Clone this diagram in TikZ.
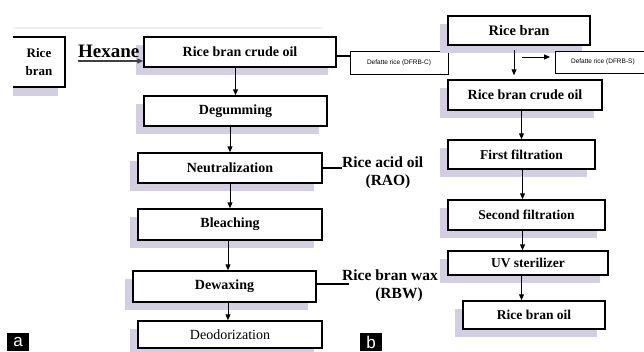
\documentclass[tikz,border=0pt]{standalone}
\usepackage{fontspec}
\setmainfont{Liberation Serif}
\setsansfont{Liberation Sans}
\usetikzlibrary{arrows.meta,shadows,calc}
\definecolor{shadowc}{RGB}{212,206,226}
\tikzset{
  box/.style={draw=black, line width=1.5pt, fill=white, inner sep=0pt,
    font=\fontsize{14}{16}\selectfont\bfseries,
    drop shadow={shadow xshift=-8pt, shadow yshift=-8pt, fill=shadowc, opacity=1}},
  rbox/.style={box, font=\fontsize{13.5}{16}\selectfont\bfseries},
  smallbox/.style={draw=black, line width=0.8pt, fill=white, inner sep=0pt,
    font=\sffamily\fontsize{6.5}{8}\selectfont},
  flow/.style={line width=1pt, -{Triangle[length=6pt,width=5pt]}},
  plainline/.style={line width=1.2pt},
  sidelabel/.style={font=\fontsize{15.5}{17}\selectfont\bfseries, inner sep=0pt},
  tag/.style={fill=black, text=white, font=\sffamily\fontsize{17}{17}\selectfont,
    minimum width=22pt, minimum height=18pt, inner sep=0pt}
}
\begin{document}
\begin{tikzpicture}[x=1pt,y=-1pt]
\useasboundingbox (0,0) rectangle (644,351);
% faint top rule
\draw[gray!12, line width=1.5pt] (13,28) -- (323,28);

% ---- panel a ----
% Rice bran (left edge cut off)
\fill[shadowc] (13,87) rectangle (58,96);
\node[inner sep=0pt, minimum width=52pt, minimum height=50pt, align=center,
  font=\fontsize{13}{18}\selectfont\bfseries] (lrb) at (39,62) {Rice\\bran};
\draw[line width=1.5pt] (lrb.north west) -- (lrb.north east) -- (lrb.south east) -- (lrb.south west);

\node[box, minimum width=192pt, minimum height=30pt] (lcrude) at (240,52) {Rice bran crude oil};
\node[anchor=base west, inner sep=0pt, font=\fontsize{19}{20}\selectfont\bfseries] (hex) at (78,57) {Hexane};
\coordinate (hexstart) at (78,61);
\draw[line width=1.2pt, black!75, -{Triangle[length=6pt,width=5pt]}] (hexstart) -- (hexstart -| lcrude.west);

\node[smallbox, minimum width=98pt, minimum height=23pt] (dfc) at (399,62.5) {Defatte rice (DFRB-C)};
\draw[plainline] ([yshift=-4pt]lcrude.east) -- ([yshift=-4pt]lcrude.east -| dfc.west);

\node[box, minimum width=183pt, minimum height=30pt] (degum) at (235.5,111) {Degumming};
\node[box, minimum width=184pt, minimum height=30pt] (neut) at (230,168) {Neutralization};
\node[box, minimum width=184pt, minimum height=31pt] (bleach) at (230,224.5) {Bleaching};
\node[box, minimum width=183pt, minimum height=31pt] (dewax) at (224.5,286.5) {Dewaxing};
\node[box, minimum width=184pt, minimum height=27pt, font=\fontsize{14}{16}\selectfont] (deodor) at (230,334.5) {Deodorization};

\draw[flow] (lcrude.south -| degum.north) -- (degum.north);
\draw[flow] (degum.south -| neut.north) -- (neut.north);
\draw[flow] (neut.south) -- (bleach.north);
\draw[flow] ([xshift=-2pt]bleach.south) -- ([xshift=-2pt]bleach.south |- dewax.north);
\draw[flow] ([xshift=-2pt]deodor.north |- dewax.south) -- ([xshift=-2pt]deodor.north);

% side products
\node[sidelabel, anchor=base west] (rao1) at (342,167) {Rice acid oil};
\node[sidelabel] (rao2) at (388,182) {(RAO)};
\draw[plainline] (neut.east) -- (neut.east -| rao1.west);

\node[sidelabel, anchor=base west] (rbw1) at (342,280) {Rice bran wax};
\node[sidelabel] (rbw2) at (399,295) {(RBW)};
\coordinate (rbwend) at (349,284);
\draw[plainline] (dewax.east |- rbwend) -- (rbwend);

\node[tag] (taga) at (18,342) {a};

% ---- panel b ----
\node[rbox, minimum width=142pt, minimum height=29pt, font=\fontsize{14.5}{16}\selectfont\bfseries] (rrb) at (519,30.5) {Rice bran};
\node[rbox, minimum width=154pt, minimum height=30pt, font=\fontsize{14}{16}\selectfont\bfseries] (rcrude) at (525,95) {Rice bran crude oil};
\node[smallbox, minimum width=95pt, minimum height=22pt, anchor=west] (dfs) at (555,62) {Defatte rice (DFRB-S)};
\coordinate (rbdown) at (514,50);
\draw[flow, shorten >=4pt] (rbdown) -- (rbdown |- rcrude.north);
\coordinate (rbright) at (522,57);
\draw[flow] (rbright) -- ([xshift=-5pt]rbright -| dfs.west);

\node[rbox, minimum width=147pt, minimum height=29pt] (first) at (521.5,154.5) {First filtration};
\node[rbox, minimum width=157pt, minimum height=30pt] (second) at (526.5,215) {Second filtration};
\node[rbox, minimum width=160pt, minimum height=24pt] (uv) at (528,263) {UV sterilizer};
\node[rbox, minimum width=142pt, minimum height=28pt] (rbo) at (534,315) {Rice bran oil};

\draw[flow] (rcrude.south -| first.north) -- (first.north);
\draw[flow] ([xshift=1pt]first.south) -- ([xshift=1pt]first.south |- second.north);
\draw[flow] ([xshift=1pt]first.south |- second.south) -- ([xshift=1pt]first.south |- uv.north);
\draw[flow] (first.south |- uv.south) -- (first.south |- rbo.north);

\node[tag] (tagb) at (371,342) {b};
\end{tikzpicture}
\end{document}
